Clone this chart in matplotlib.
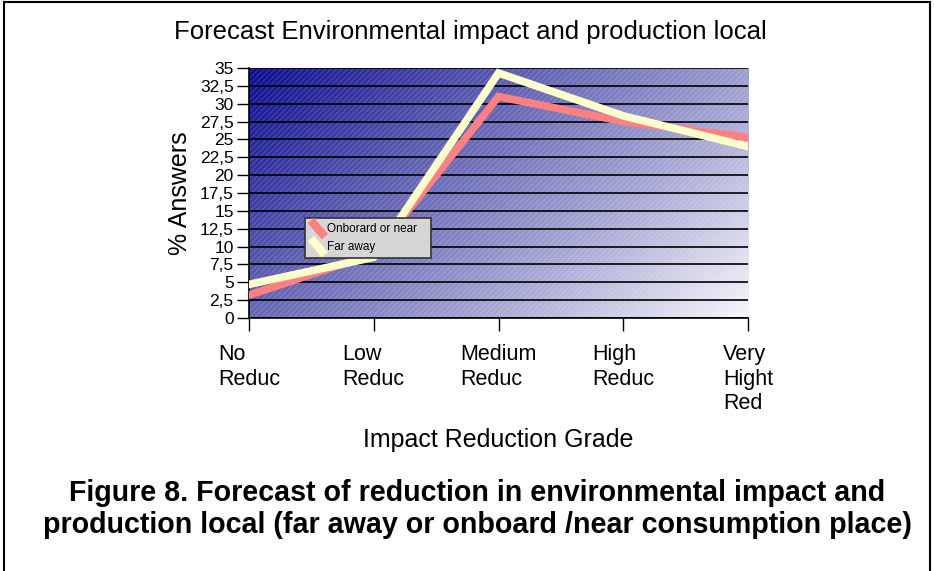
import numpy as np
import matplotlib.pyplot as plt
from matplotlib.colors import LinearSegmentedColormap
from matplotlib.patches import Rectangle
from matplotlib.lines import Line2D

plt.rcParams['font.family'] = ['Liberation Sans', 'DejaVu Sans']

categories = ['No\nReduc', 'Low\nReduc', 'Medium\nReduc', 'High\nReduc', 'Very\nHight\nRed']
onboard_near = [3.2, 9.0, 31.0, 27.5, 25.3]
far_away = [4.7, 8.5, 34.3, 28.3, 24.0]
y_ticks = np.arange(0, 35.1, 2.5)
y_labels = [('%g' % v).replace('.', ',') for v in y_ticks]

fig = plt.figure(figsize=(9.34, 5.71), dpi=100)
ax = fig.add_axes([0.2666, 0.4431, 0.5343, 0.4378])

x = np.arange(len(categories))
ax.set_xlim(0, len(categories) - 1)
ax.set_ylim(0, 35)

# diagonal blue-to-white gradient background (dark corner top-left)
gx, gy = np.meshgrid(np.linspace(0, 1, 300), np.linspace(0, 1, 200))
grad = 0.62 * gx + 0.38 * gy
cmap = LinearSegmentedColormap.from_list('bg', ['#0c0c90', '#5c5cb0', '#a6a6d4', '#f6f6fb'])
ax.imshow(grad, cmap=cmap, extent=[0, 1, 0, 1], transform=ax.transAxes,
          aspect='auto', zorder=0, vmin=0, vmax=1, origin='upper')
plt.rcParams['hatch.linewidth'] = 0.6
ax.add_patch(Rectangle((0, 0), 1, 1, transform=ax.transAxes, facecolor='none',
                       edgecolor=(1, 1, 1, 0.2), hatch='//////', lw=0, zorder=0.5))

for v in y_ticks:
    ax.axhline(v, color='black', lw=1.2, zorder=1)

ax.plot(x, onboard_near, color='#ff8080', lw=5.5, solid_joinstyle='miter', zorder=3)
ax.plot(x, far_away, color='#ffffcc', lw=5.5, solid_joinstyle='miter', zorder=4)

ax.set_yticks(y_ticks)
ax.set_yticklabels(y_labels, fontsize=12.5,
                   family=['Liberation Sans Narrow', 'Liberation Sans'])
ax.set_xticks(x)
ax.set_xticklabels(categories, fontsize=15.5, linespacing=1.2, va='top',
                   multialignment='left')
ax.tick_params(axis='y', length=9, width=1, pad=2)
ax.tick_params(axis='x', length=9, width=1, pad=10)
for s in ['top', 'right']:
    ax.spines[s].set_visible(False)
ax.spines['left'].set_linewidth(1.2)
ax.spines['bottom'].set_linewidth(1.2)

ax.set_ylabel('% Answers', fontsize=18, labelpad=6)
ax.set_xlabel('Impact Reduction Grade', fontsize=18, labelpad=10)
fig.text(0.504, 0.944, 'Forecast Environmental impact and production local',
         ha='center', va='center', fontsize=18.5)

# legend box drawn by hand so the long label is clipped by its frame
lx0, ly0, lw_, lh = 0.112, 0.24, 0.253, 0.16
box = Rectangle((lx0, ly0), lw_, lh, transform=ax.transAxes, facecolor='#d6d6d6',
                edgecolor='#333333', lw=1.2, zorder=6)
ax.add_patch(box)
entries = [('Onborard or near', '#ff8080'), ('Far away', '#ffffcc')]
for i, (label, col) in enumerate(entries):
    yc = ly0 + lh * (0.72 - 0.45 * i)
    ax.add_line(Line2D([lx0 + 0.012, lx0 + 0.04], [yc + 0.035, yc - 0.03],
                       transform=ax.transAxes, color=col, lw=6, zorder=7,
                       solid_capstyle='butt'))
    t = ax.text(lx0 + 0.045, yc, label, transform=ax.transAxes, fontsize=8.5,
                va='center', ha='left', zorder=8)
    t.set_clip_path(box)

fig.text(0.511, 0.109, 'Figure 8. Forecast of reduction in environmental impact and\n'
         'production local (far away or onboard /near consumption place)',
         ha='center', va='center', fontsize=20.6, fontweight='bold', linespacing=1.18)

# outer frame
fig.add_artist(Line2D([0.004, 0.004], [0, 0.997], transform=fig.transFigure, color='black', lw=1.5))
fig.add_artist(Line2D([0.004, 0.996], [0.997, 0.997], transform=fig.transFigure, color='black', lw=1.5))
fig.add_artist(Line2D([0.996, 0.996], [0, 0.997], transform=fig.transFigure, color='black', lw=1.5))

fig.savefig('out.png', dpi=100)
